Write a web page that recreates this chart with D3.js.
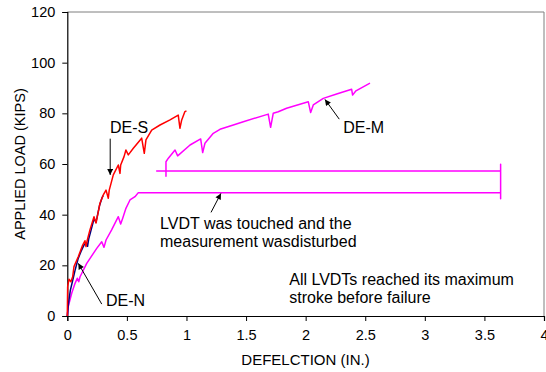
<!DOCTYPE html>
<html>
<head>
<meta charset="utf-8">
<script src="https://cdn.jsdelivr.net/npm/d3@7"></script>
<style>
  body { margin: 0; background: #fff; }
  text { font-family: Arial, "Liberation Sans", sans-serif; fill: #000; }
</style>
</head>
<body>
<div id="chart"></div>
<script>
// Deflection (in.) / load (kips)
const desX = [0, 0.003, 0.014, 0.03, 0.045, 0.056, 0.092, 0.129, 0.148, 0.157, 0.168, 0.19, 0.224, 0.241, 0.252,
  0.274, 0.302, 0.325, 0.344, 0.352, 0.386, 0.428, 0.442, 0.448, 0.476, 0.492, 0.512, 0.554, 0.624, 0.646, 0.66,
  0.708, 0.778, 0.862, 0.931, 0.945, 0.96, 0.987, 1.0];
const desY = [0, 11.6, 14.5, 13.5, 15.5, 19.5, 23.4, 28, 29.7, 27.4, 30, 34, 39.2, 36.7, 39.2,
  44.5, 47.8, 49.7, 46.5, 49.7, 55.7, 59.6, 56.3, 59.6, 62.9, 65.5, 63.6, 66.2, 70.2, 64.2, 69.5,
  73.4, 75.4, 77.4, 79.3, 74.1, 77.4, 80.7, 81];

const denX = [0, 0.01, 0.025, 0.045, 0.065, 0.09, 0.115, 0.14, 0.16, 0.17, 0.18, 0.2, 0.225, 0.24, 0.25, 0.27, 0.29, 0.3];
const denY = [0, 5, 10, 14, 18, 22.5, 25.5, 28, 29, 27.5, 30.5, 34, 38.5, 37, 39, 43.5, 46.5, 47.5];

const demX = [0, 0.008, 0.037, 0.065, 0.084, 0.096, 0.107, 0.163, 0.247, 0.289, 0.308, 0.325, 0.372, 0.428, 0.448,
  0.465, 0.492, 0.526, 0.568, 0.596, 3.636, 3.636, 3.636, 3.636, 0.75, 0.88, 0.828, 0.828, 0.828, 0.848, 0.904,
  0.926, 1.03, 1.119, 1.136, 1.155, 1.225, 1.281, 1.393, 1.477, 1.686, 1.706, 1.728, 1.77, 1.84, 2.022, 2.042,
  2.064, 2.148, 2.26, 2.386, 2.394, 2.422, 2.54];
const demY = [0, 3.7, 9, 12.9, 14.9, 13.5, 15.5, 20.8, 26.7, 29.3, 27.1, 30, 34, 39.2, 36.3,
  38.6, 42.5, 45.8, 47.1, 48.7, 48.7, 46.3, 59.9, 57.2, 57.2, 57.2, 57.2, 55.2, 60.9, 62.3, 65.5,
  63.2, 67.5, 69.9, 64.5, 68.2, 72.1, 73.7, 75.4, 76.7, 79.7, 74.5, 80, 80.6, 82, 84.6, 80.3,
  83.3, 85.9, 87.6, 89.5, 87.2, 88.9, 91.9];

const xTicks = [0, 0.5, 1, 1.5, 2, 2.5, 3, 3.5, 4];
const yTicks = [0, 20, 40, 60, 80, 100, 120];

const width = 546, height = 372;
const margin = {top: 12, right: 2, bottom: 56, left: 67.3};

const svg = d3.select("#chart").append("svg")
  .attr("width", width)
  .attr("height", height);

const x = d3.scaleLinear().domain([0, 4]).range([margin.left, width - margin.right]);
const y = d3.scaleLinear().domain([0, 120]).range([height - margin.bottom, margin.top]);

// arrowhead
svg.append("defs").append("marker")
  .attr("id", "arrow")
  .attr("viewBox", "0 0 10 10")
  .attr("refX", 10).attr("refY", 5)
  .attr("markerUnits", "userSpaceOnUse")
  .attr("markerWidth", 7).attr("markerHeight", 6)
  .attr("orient", "auto")
  .append("path")
    .attr("d", "M0,0 L10,5 L0,10 z")
    .attr("fill", "#000");

// plot frame (top / right)
svg.append("path")
  .attr("d", `M${x(0)},${y(120)} H${x(4)} V${y(0)}`)
  .attr("fill", "none")
  .attr("stroke", "#7f7f7f")
  .attr("stroke-width", 1);

// axes
const xAxis = svg.append("g")
  .attr("transform", `translate(0,${y(0)})`)
  .call(d3.axisBottom(x).tickValues(xTicks).tickSize(5).tickPadding(9)
    .tickFormat(d => d3.format("")(d)));
const yAxis = svg.append("g")
  .attr("transform", `translate(${x(0)},0)`)
  .call(d3.axisLeft(y).tickValues(yTicks).tickSize(5).tickPadding(7));

[xAxis, yAxis].forEach(g => {
  g.select(".domain").attr("stroke", "#000").attr("stroke-width", 1.2);
  g.selectAll(".tick line").attr("stroke", "#000");
  g.selectAll("text").attr("font-size", "14.5px")
    .attr("font-family", "Arial, 'Liberation Sans', sans-serif").attr("fill", "#000");
});

// axis titles
svg.append("text")
  .attr("x", 305.5).attr("y", 365)
  .attr("text-anchor", "middle")
  .attr("font-size", "15px")
  .text("DEFELCTION (IN.)");

svg.append("text")
  .attr("transform", `translate(25,${(y(0) + y(120)) / 2}) rotate(-90)`)
  .attr("text-anchor", "middle")
  .attr("font-size", "14.5px")
  .text("APPLIED LOAD (KIPS)");

// series
const line = d3.line().x(d => x(d[0])).y(d => y(d[1]));
const series = [
  {xs: demX, ys: demY, color: "#ff00ff"},
  {xs: denX, ys: denY, color: "#000080"},
  {xs: desX, ys: desY, color: "#ff0000"}
];
series.forEach(s => {
  svg.append("path")
    .datum(s.xs.map((v, i) => [v, s.ys[i]]))
    .attr("d", line)
    .attr("fill", "none")
    .attr("stroke", s.color)
    .attr("stroke-width", 1.5)
    .attr("stroke-linejoin", "round");
});

// annotations
const notes = [
  {lines: ["DE-S"], x: 0.358, y: 72.2, from: [0.36, 70], to: [0.36, 55.7]},
  {lines: ["DE-N"], x: 0.325, y: 3.9, from: [0.289, 4.7], to: [0.092, 20.8]},
  {lines: ["DE-M"], x: 2.315, y: 72.2, from: [2.282, 77.7], to: [2.162, 85.5]},
  {lines: ["LVDT was touched and the", "measurement wasdisturbed"], x: 0.778, y: 34.5, from: [1.206, 40.9], to: [1.289, 48.4]},
  {lines: ["All LVDTs reached its maximum", "stroke before failure"], x: 1.862, y: 12.4}
];
notes.forEach(n => {
  const t = svg.append("text")
    .attr("x", x(n.x)).attr("y", y(n.y))
    .attr("font-size", "16px");
  n.lines.forEach((l, i) => {
    t.append("tspan").attr("x", x(n.x)).attr("dy", i === 0 ? 0 : 18.2).text(l);
  });
  if (n.from) {
    svg.append("line")
      .attr("x1", x(n.from[0])).attr("y1", y(n.from[1]))
      .attr("x2", x(n.to[0])).attr("y2", y(n.to[1]))
      .attr("stroke", "#000").attr("stroke-width", 1)
      .attr("marker-end", "url(#arrow)");
  }
});
</script>
</body>
</html>
